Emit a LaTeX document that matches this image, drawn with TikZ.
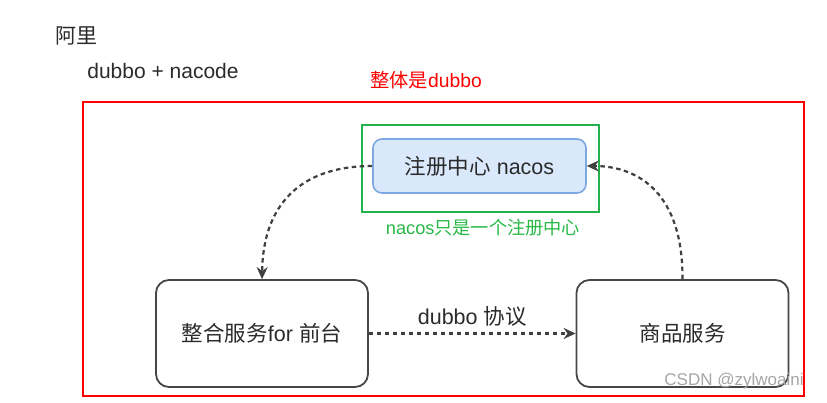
\documentclass[tikz,border=0pt]{standalone}
\usepackage{fontspec}
\setmainfont{Liberation Sans}
\newfontfamily\cjk{Noto Sans CJK SC}
\usetikzlibrary{arrows.meta}
\definecolor{txtgray}{HTML}{2B2B2B}
\definecolor{boxgray}{HTML}{474747}
\definecolor{regfill}{HTML}{DAE8FC}
\definecolor{regdraw}{HTML}{7EA6E0}
\definecolor{grn}{RGB}{34,177,76}
\definecolor{grntxt}{RGB}{40,185,70}
\begin{document}
\begin{tikzpicture}[x=1pt,y=-1pt,
  txt/.style={inner sep=0pt, text=txtgray, font=\fontsize{21}{24}\selectfont},
  svcbox/.style={draw=boxgray, line width=1.8pt, rounded corners=13pt, minimum width=212pt, minimum height=107pt, inner sep=0pt, text=txtgray, font=\fontsize{21.5}{25}\selectfont},
  regbox/.style={draw=regdraw, fill=regfill, line width=1.6pt, rounded corners=9pt, minimum width=213pt, minimum height=54pt, inner sep=0pt, text=txtgray, font=\fontsize{21.5}{25}\selectfont},
  dashconn/.style={draw=black!75, line width=2.2pt, dash pattern=on 4.5pt off 3.5pt, -{Stealth[length=12pt,width=11pt]}}
]
\useasboundingbox (0,0) rectangle (827,402);
\fill[white] (0,0) rectangle (827,402);

% texts at top
\node[txt] (ali) at (76,36) {\cjk 阿里};
\node[txt] (dn) at (163,71) {dubbo + nacode};
\node[inner sep=0pt, text=red, font=\fontsize{19.3}{23}\selectfont] (whole) at (426,80) {{\cjk 整体是}dubbo};

% red frame
\draw[red, line width=2.6pt] (83,102) rectangle (804,396);

% green frame
\draw[grn, line width=2.2pt] (362,125) rectangle (599,212);
\node[inner sep=0pt, text=grntxt, font=\fontsize{18.2}{22}\selectfont] (gtxt) at (483,228) {nacos{\cjk 只是一个注册中心}};

% nodes
\node[regbox] (reg) at (479.5,166) {{\cjk 注册中心} nacos};
\node[svcbox] (front) at (262,333.5) {{\cjk 整合服务}for {\cjk 前台}};
\node[svcbox] (goods) at (682.5,333.5) {\cjk 商品服务};

% connectors
\draw[dashconn] (reg.west) .. controls (300,166) and (263,205) .. (front.north);
\draw[dashconn] (goods.north) .. controls (683,195) and (640,166) .. (reg.east);
\draw[dashconn] (front.east) -- node[above=6pt, txt, font=\fontsize{21.5}{25}\selectfont] (lbl) {dubbo {\cjk 协议}} (goods.west);

% watermark
\node[inner sep=0pt, text=black!35, font=\fontsize{17}{20}\selectfont] (wm) at (734,381) {CSDN @zylwoaini};
\end{tikzpicture}
\end{document}
